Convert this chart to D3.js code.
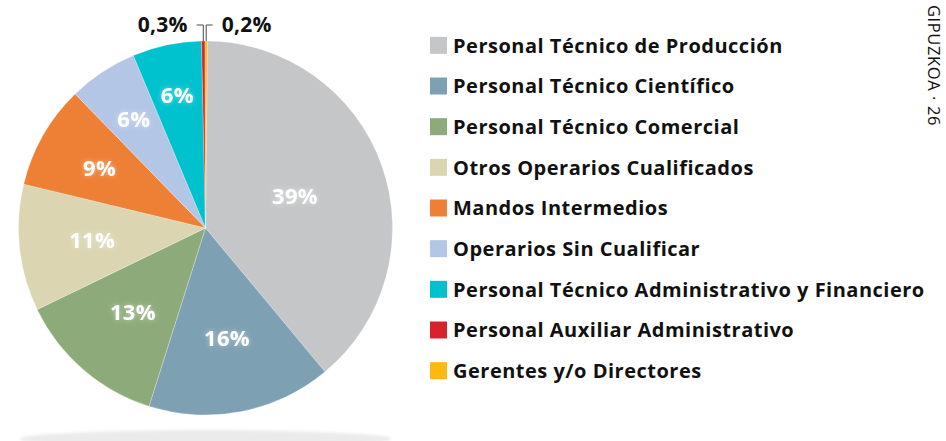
<!DOCTYPE html>
<html>
<head>
<meta charset="utf-8">
<script src="https://cdn.jsdelivr.net/npm/d3@7"></script>
<style>
  body { margin: 0; background: #fff; }
  svg { display: block; font-family: "Open Sans", "DejaVu Sans", sans-serif; }
</style>
</head>
<body>
<div id="grafico"></div>
<script>
// datos
const categorias = [
  "Personal Técnico de Producción",
  "Personal Técnico Científico",
  "Personal Técnico Comercial",
  "Otros Operarios Cualificados",
  "Mandos Intermedios",
  "Operarios Sin Cualificar",
  "Personal Técnico Administrativo y Financiero",
  "Personal Auxiliar Administrativo",
  "Gerentes y/o Directores"
];
const valores = [39, 16, 13, 11, 9, 6, 6, 0.3, 0.2];
const etiquetas = ["39%", "16%", "13%", "11%", "9%", "6%", "6%", "0,3%", "0,2%"];
const colores = ["#c5c6c8", "#7da0b3", "#8dab7a", "#dbd5b2", "#ed8035", "#b3c6e6", "#00c2cf", "#d7232b", "#fdb813"];

const width = 946, height = 441;
const cx = 205.5, cy = 228, radius = 187;

let svg = d3.select("#grafico")
  .append("svg")
    .attr("width", width)
    .attr("height", height);

// glow para etiquetas blancas
let defs = svg.append("defs");
let glow = defs.append("filter").attr("id", "glow").attr("x", "-30%").attr("y", "-30%").attr("width", "160%").attr("height", "160%");
glow.append("feGaussianBlur").attr("in", "SourceAlpha").attr("stdDeviation", 2.5).attr("result", "blur");
glow.append("feFlood").attr("flood-color", "#ffffff").attr("flood-opacity", 0.45);
glow.append("feComposite").attr("in2", "blur").attr("operator", "in").attr("result", "halo");
let merge = glow.append("feMerge");
merge.append("feMergeNode").attr("in", "halo");
merge.append("feMergeNode").attr("in", "SourceGraphic");

let sombra = defs.append("filter").attr("id", "sombra").attr("x", "-10%").attr("y", "-100%").attr("width", "120%").attr("height", "300%");
sombra.append("feGaussianBlur").attr("stdDeviation", 1.5);

// sombra bajo la tarta
svg.append("ellipse")
  .attr("cx", cx)
  .attr("cy", 439)
  .attr("rx", radius - 1)
  .attr("ry", 9)
  .attr("fill", "#ebebeb")
  .attr("filter", "url(#sombra)");

// tarta
const offset = 0.01;
let pie = d3.pie().sort(null).value(d => d).startAngle(offset).endAngle(offset + 2 * Math.PI);
let arcs = pie(valores);
let arc = d3.arc().innerRadius(0).outerRadius(radius);

let g = svg.append("g").attr("transform", `translate(${cx},${cy})`);

g.selectAll("path")
  .data(arcs)
  .enter()
  .append("path")
    .attr("d", arc)
    .attr("fill", (d, i) => colores[i])
    .attr("stroke", "#ffffff")
    .attr("stroke-opacity", 0.5)
    .attr("stroke-width", 0.5);

// etiquetas internas (radio distinto por porción, como en el original)
const radioEtiqueta = [95, 112, 111, 114, 122, 130, 136];
arcs.slice(0, 7).forEach((d, i) => {
  let a = (d.startAngle + d.endAngle) / 2;
  let r = radioEtiqueta[i];
  g.append("text")
    .attr("x", r * Math.sin(a))
    .attr("y", -r * Math.cos(a))
    .attr("dy", "0.36em")
    .attr("text-anchor", "middle")
    .attr("fill", "#ffffff")
    .attr("font-size", "22px")
    .attr("font-weight", 700)
    .attr("letter-spacing", "0.3px")
    .attr("filter", "url(#glow)")
    .text(etiquetas[i]);
});

// etiquetas externas con líneas guía
const yGuia = 25 - cy;
arcs.slice(7).forEach((d, j) => {
  let i = j + 7;
  let a = (d.startAngle + d.endAngle) / 2;
  let x0 = radius * Math.sin(a);
  let y0 = -radius * Math.cos(a);
  let dir = j === 0 ? -1 : 1;
  g.append("polyline")
    .attr("points", `${x0},${y0} ${x0},${yGuia} ${x0 + dir * 6.5},${yGuia}`)
    .attr("fill", "none")
    .attr("stroke", "#4a4a4a")
    .attr("stroke-width", 1);
  g.append("text")
    .attr("x", x0 + dir * 15.5)
    .attr("y", 32 - cy)
    .attr("text-anchor", dir < 0 ? "end" : "start")
    .attr("fill", "#111")
    .attr("font-size", "21px")
    .attr("font-weight", 700)
    .attr("letter-spacing", "0.3px")
    .text(etiquetas[i]);
});

// leyenda
let y = d3.scaleBand().domain(categorias).range([25, 391]);
let legend = svg.append("g").attr("id", "legend");
let fila = legend.selectAll("g")
  .data(categorias)
  .enter()
  .append("g")
    .attr("transform", d => `translate(430,${y(d) + y.bandwidth() / 2})`);

fila.append("rect")
  .attr("x", 0)
  .attr("y", -8.5)
  .attr("width", 17)
  .attr("height", 17)
  .attr("fill", (d, i) => colores[i]);

fila.append("text")
  .attr("x", 23)
  .attr("dy", "0.36em")
  .attr("fill", "#111")
  .attr("font-size", "20px")
  .attr("font-weight", 700)
  .attr("letter-spacing", "0.5px")
  .text(d => d);

// pie de página vertical
svg.append("text")
  .attr("transform", "translate(928,5) rotate(90)")
  .attr("fill", "#111")
  .attr("font-size", "16.5px")
  .attr("letter-spacing", "0.6px")
  .text("GIPUZKOA · 26");
</script>
</body>
</html>
